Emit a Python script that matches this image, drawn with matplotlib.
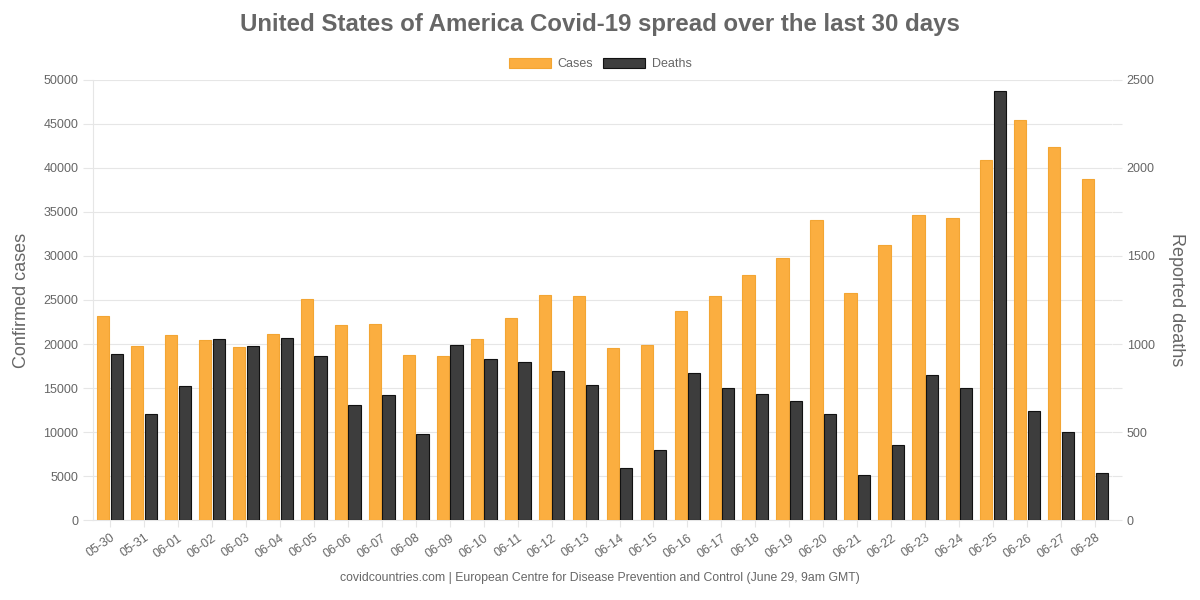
import matplotlib.pyplot as plt
import numpy as np

plt.rcParams['font.family'] = ['Liberation Sans', 'DejaVu Sans']

dates = ['05-30', '05-31', '06-01', '06-02', '06-03', '06-04', '06-05', '06-06',
         '06-07', '06-08', '06-09', '06-10', '06-11', '06-12', '06-13', '06-14',
         '06-15', '06-16', '06-17', '06-18', '06-19', '06-20', '06-21', '06-22',
         '06-23', '06-24', '06-25', '06-26', '06-27', '06-28']
cases = [23200, 19800, 21000, 20500, 19700, 21100, 25100, 22200,
         22300, 18800, 18600, 20600, 22900, 25600, 25500, 19500,
         19900, 23700, 25500, 27800, 29800, 34100, 25800, 31300,
         34700, 34300, 40900, 45500, 42400, 38700]
deaths = [945, 600, 760, 1030, 990, 1035, 930, 655,
          710, 490, 995, 915, 895, 845, 765, 295,
          395, 835, 750, 715, 675, 605, 255, 425,
          825, 750, 2435, 620, 500, 265]

grey = '#666666'
x = np.arange(len(dates))

fig = plt.figure(figsize=(12, 6), dpi=100)
ax = fig.add_axes([0.0775, 0.1333, 0.8492, 0.7334])
ax2 = ax.twinx()

ax.bar(x - 0.2, cases, width=0.36, color='#fbae40', edgecolor='#f3a533',
       linewidth=0.8, zorder=3, label='Cases')
ax2.bar(x + 0.2, deaths, width=0.36, color='#3d3d3d', edgecolor='#111111',
        linewidth=0.8, zorder=3, label='Deaths')

ax.set_xlim(-0.5, len(dates) - 0.5)
ax.set_ylim(0, 50000)
ax2.set_ylim(0, 2500)
ax.set_yticks(np.arange(0, 50001, 5000))
ax2.set_yticks(np.arange(0, 2501, 250))
ax2.set_yticklabels([str(v) if v % 500 == 0 else '' for v in range(0, 2501, 250)])
ax.grid(axis='y', color='#e6e6e6', linewidth=0.8, zorder=0)
ax.set_axisbelow(True)

ax.set_xticks(x)
ax.set_xticklabels(dates, rotation=35, ha='right', rotation_mode='anchor')

for a in (ax, ax2):
    for s in a.spines.values():
        s.set_visible(False)
    a.tick_params(colors=grey, labelsize=9, length=7, width=0.8)
    a.tick_params(axis='y', color='#e6e6e6')
ax.tick_params(axis='x', color='#e6e6e6', length=5)
ax.spines['left'].set_visible(True)
ax.spines['left'].set_color('#e6e6e6')
ax.spines['bottom'].set_visible(True)
ax.spines['bottom'].set_color('#e6e6e6')

ax.set_ylabel('Confirmed cases', color=grey, fontsize=13, labelpad=10)
ax2.set_ylabel('Reported deaths', color=grey, fontsize=13, rotation=270,
               labelpad=22)

fig.text(0.5, 0.96, 'United States of America Covid-19 spread over the last 30 days',
         ha='center', va='center', fontsize=17.3, fontweight='bold', color=grey)

h1, l1 = ax.get_legend_handles_labels()
h2, l2 = ax2.get_legend_handles_labels()
fig.legend(h1 + h2, l1 + l2, loc='center', bbox_to_anchor=(0.5, 0.893),
           ncol=2, frameon=False, fontsize=9, labelcolor=grey,
           handlelength=3.4, handleheight=0.9, columnspacing=0.8,
           handletextpad=0.5)

fig.text(0.5, 0.036, 'covidcountries.com | European Centre for Disease Prevention '
         'and Control (June 29, 9am GMT)', ha='center', va='center',
         fontsize=8.8, color=grey)

fig.savefig('out.png', dpi=100)
